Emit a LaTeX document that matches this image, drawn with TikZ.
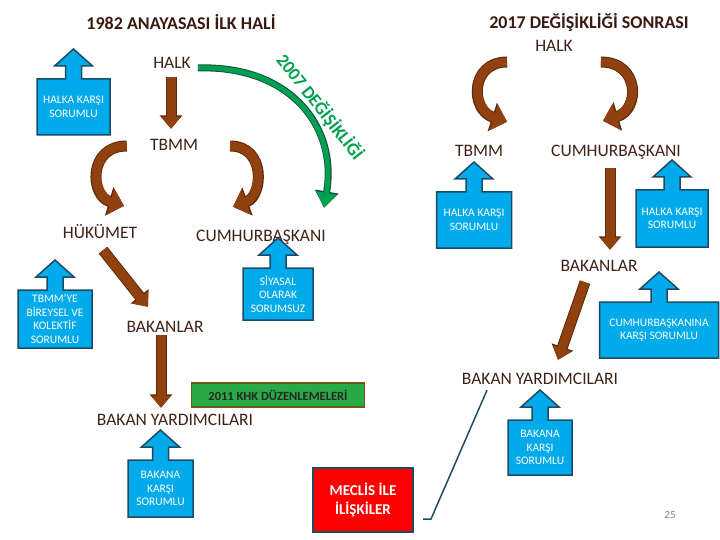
\documentclass[tikz,border=0pt]{standalone}
\usepackage{fontspec}
\setmainfont{Carlito}
\usetikzlibrary{arrows.meta,calc,backgrounds}

\definecolor{textbrown}{RGB}{62,34,22}
\definecolor{titlebrown}{RGB}{58,26,16}
\definecolor{arrowbrown}{RGB}{145,65,15}
\definecolor{arrowedge}{RGB}{95,42,12}
\definecolor{arrowgreen}{RGB}{0,160,80}
\definecolor{greenedge}{RGB}{20,80,70}
\definecolor{calloutblue}{RGB}{0,170,235}
\definecolor{calloutedge}{RGB}{30,75,100}
\definecolor{khkgreen}{RGB}{40,170,70}
\definecolor{khkedge}{RGB}{110,90,20}
\definecolor{meclisred}{RGB}{255,0,0}

\tikzset{
  word/.style={text=textbrown, font=\fontsize{17.5}{20}\selectfont, inner sep=2pt,
    text height=12pt, text depth=0pt},
  title/.style={text=titlebrown, font=\fontsize{18}{21}\selectfont\bfseries},
  callout/.style={text=white, font=\fontsize{11.5}{13.5}\selectfont, align=center,
    inner sep=0pt, outer sep=0pt},
  calloutfill/.style={fill=calloutblue, draw=calloutedge, line width=1.5pt, line join=miter},
  brownarrow/.style={draw=arrowbrown, line width=9pt, -{Triangle[length=12pt,width=19pt]},
    preaction={draw=arrowedge, line width=11pt, -{Triangle[length=13.5pt,width=22pt]}}},
  curvearrow/.style={draw=arrowbrown, line width=9pt, -{Triangle[length=14pt,width=26pt]},
    preaction={draw=arrowedge, line width=11pt, -{Triangle[length=15.5pt,width=29pt]}}},
  greenarrow/.style={draw=arrowgreen, line width=5pt, -{Triangle[length=15pt,width=20pt]},
    preaction={draw=greenedge, line width=7pt, -{Triangle[length=16.5pt,width=23pt]}}},
  connector/.style={draw=calloutedge, line width=1.5pt}
}

% up arrow drawn behind a callout node
\newcommand{\boxarrow}[1]{%
  \begin{scope}[on background layer]
    \filldraw[calloutfill] (#1.south west) -- (#1.north west) -- ($(#1.north)+(-8,0)$)
      -- ++(0,-13) -- ++(-11,0) -- ($(#1.north)+(0,-30)$) -- ($(#1.north)+(19,-13)$)
      -- ++(-11,0) -- ($(#1.north)+(8,0)$) -- (#1.north east) -- (#1.south east) -- cycle;
  \end{scope}}

\begin{document}
\begin{tikzpicture}[x=1pt,y=-1pt]
  \useasboundingbox (0,0) rectangle (720,540);

  % titles
  \node[title] (titleL) at (181,22) {1982 ANAYASASI İLK HALİ};
  \node[title] (titleR) at (589,22) {2017 DEĞİŞİKLİĞİ SONRASI};

  % left side
  \node[word] (halkL) at (172,63) {HALK};
  \node[word] (tbmmL) at (174,145) {TBMM};
  \node[word] (hukumet) at (100,232) {HÜKÜMET};
  \node[word] (cbL) at (261,235) {CUMHURBAŞKANI};
  \node[word] (bakanlarL) at (165,326) {BAKANLAR};
  \node[word] (yardL) at (175,419) {BAKAN YARDIMCILARI};

  \node[callout, minimum width=73pt, minimum height=56pt] (halkaL) at (73.5,107) {HALKA KARŞI\\SORUMLU};
  \node[callout, minimum width=74pt, minimum height=58pt] (tbmmye) at (55,319) {TBMM'YE\\BİREYSEL VE\\KOLEKTİF\\SORUMLU};
  \node[callout, minimum width=70pt, minimum height=52pt] (siyasal) at (278,294) {SİYASAL\\OLARAK\\SORUMSUZ};
  \node[callout, minimum width=65pt, minimum height=57pt] (bakanaL) at (160.5,488.5) {BAKANA\\KARŞI\\SORUMLU};
  \boxarrow{halkaL}
  \boxarrow{tbmmye}
  \boxarrow{siyasal}
  \boxarrow{bakanaL}

  \draw[brownarrow] ($(halkL.south)+(-1,6)$) -- ($(tbmmL.north)+(-3,-8)$);
  \draw[curvearrow] ($(tbmmL.west)+(-21,1)$) .. controls +(-39,0) and +(-34,-10) .. ($(hukumet.north)+(24,-18)$);
  \draw[curvearrow] ($(tbmmL.east)+(30,1)$) .. controls +(36,0) and +(30,-11) .. ($(cbL.north)+(-28,-20)$);
  \draw[greenarrow] ($(halkL.east)+(5,5)$) .. controls +(90,-3) and +(14,-83) .. ($(cbL.north)+(63,-19)$);
  \node[rotate=-52, text=arrowgreen, font=\fontsize{18}{20}\selectfont\bfseries] (degisiklik) at (320,107) {2007 DEĞİŞİKLİĞİ};
  \draw[brownarrow] ($(hukumet.south)+(3,10)$) -- ($(bakanlarL.north)+(-17,-11)$);
  \draw[brownarrow] ($(bakanlarL.south)+(-4,1)$) -- ($(yardL.north)+(-14,-3)$);

  \node[fill=khkgreen, draw=khkedge, line width=1.5pt, minimum width=173pt, minimum height=24pt,
    text=black!85, font=\fontsize{12.5}{15}\selectfont\bfseries] (khk) at (278,395) {2011 KHK DÜZENLEMELERİ};
  \node[fill=meclisred, draw=calloutedge, line width=2pt, minimum width=100pt, minimum height=64pt,
    text=white, align=center, font=\fontsize{15}{19}\selectfont\bfseries] (meclis) at (363,500) {MECLİS İLE\\İLİŞKİLER};

  % right side
  \node[word] (halkR) at (554,46) {HALK};
  \node[word] (tbmmR) at (479,151) {TBMM};
  \node[word] (cbR) at (616,151) {CUMHURBAŞKANI};
  \node[word] (bakanlarR) at (599,265) {BAKANLAR};
  \node[word] (yardR) at (540,378) {BAKAN YARDIMCILARI};

  \node[callout, minimum width=75pt, minimum height=56pt] (halkaR1) at (474,220) {HALKA KARŞI\\SORUMLU};
  \node[callout, minimum width=72pt, minimum height=57pt] (halkaR2) at (672,218.5) {HALKA KARŞI\\SORUMLU};
  \node[callout, minimum width=119pt, minimum height=56pt] (cbkarsi) at (659,330) {CUMHURBAŞKANINA\\KARŞI SORUMLU};
  \node[callout, minimum width=64pt, minimum height=55pt] (bakanaR) at (540,447.5) {BAKANA\\KARŞI\\SORUMLU};
  \boxarrow{halkaR1}
  \boxarrow{halkaR2}
  \boxarrow{cbkarsi}
  \boxarrow{bakanaR}

  \draw[curvearrow] ($(halkR.west)+(-26,16)$) .. controls +(-37,0) and +(-37,-12) .. ($(tbmmR.north)+(28,-21)$);
  \draw[curvearrow] ($(halkR.east)+(26,16)$) .. controls +(39,0) and +(37,-11) .. ($(cbR.north)+(-13,-22)$);
  \draw[brownarrow] ($(cbR.south)+(-6,9)$) -- ($(bakanlarR.north)+(11,-7)$);
  \draw[brownarrow] ($(bakanlarR.south)+(-14,9)$) -- ($(yardR.north)+(18,-10)$);

  \draw[connector] ($(meclis.east)+(9,19)$) -- ++(8,0) -- ($(yardR.south)+(-53,4)$);

  \node[text=gray, font=\fontsize{11}{13}\selectfont] (sayfa) at (670,515) {25};
\end{tikzpicture}
\end{document}
